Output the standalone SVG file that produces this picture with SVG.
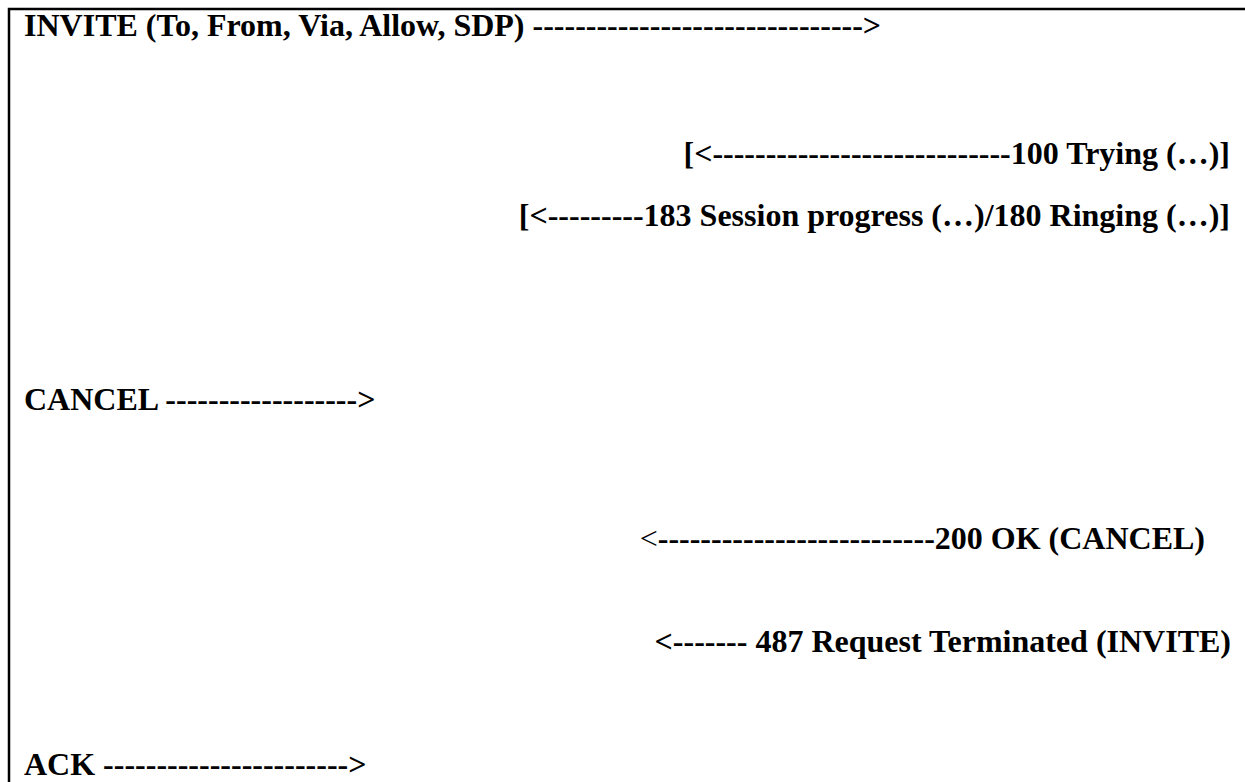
<svg xmlns="http://www.w3.org/2000/svg" width="1245" height="782" viewBox="0 0 1245 782">
<style>
.t{font-family:"Liberation Serif","Times New Roman",serif;font-weight:bold;font-size:32px;fill:#000}
.r{text-anchor:end}
.n{font-weight:normal}
.frame{stroke:#000;stroke-width:2.5;fill:none}
</style>
<rect width="1245" height="782" fill="#fff"/>
<path class="frame" d="M9,782 V9 H1245"/>
<g id="invite"><text class="t" x="24" y="36">INVITE (To, From, Via, Allow, SDP) -------------------------------&gt;</text></g>
<g id="trying"><text class="t r" x="1230" y="164">[&lt;----------------------------100 Trying (…)]</text></g>
<g id="progress"><text class="t r" x="1230" y="226">[&lt;---------183 Session progress (…)/180 Ringing (…)]</text></g>
<g id="cancel"><text class="t" x="24" y="410">CANCEL ------------------&gt;</text></g>
<g id="ok"><text class="t r" x="1205" y="549"><tspan class="n">&lt;</tspan>--------------------------200 OK (CANCEL)</text></g>
<g id="terminated"><text class="t r" x="1231" y="652">&lt;------- 487 Request Terminated (INVITE)</text></g>
<g id="ack"><text class="t" x="24" y="775">ACK -----------------------&gt;</text></g>
</svg>
